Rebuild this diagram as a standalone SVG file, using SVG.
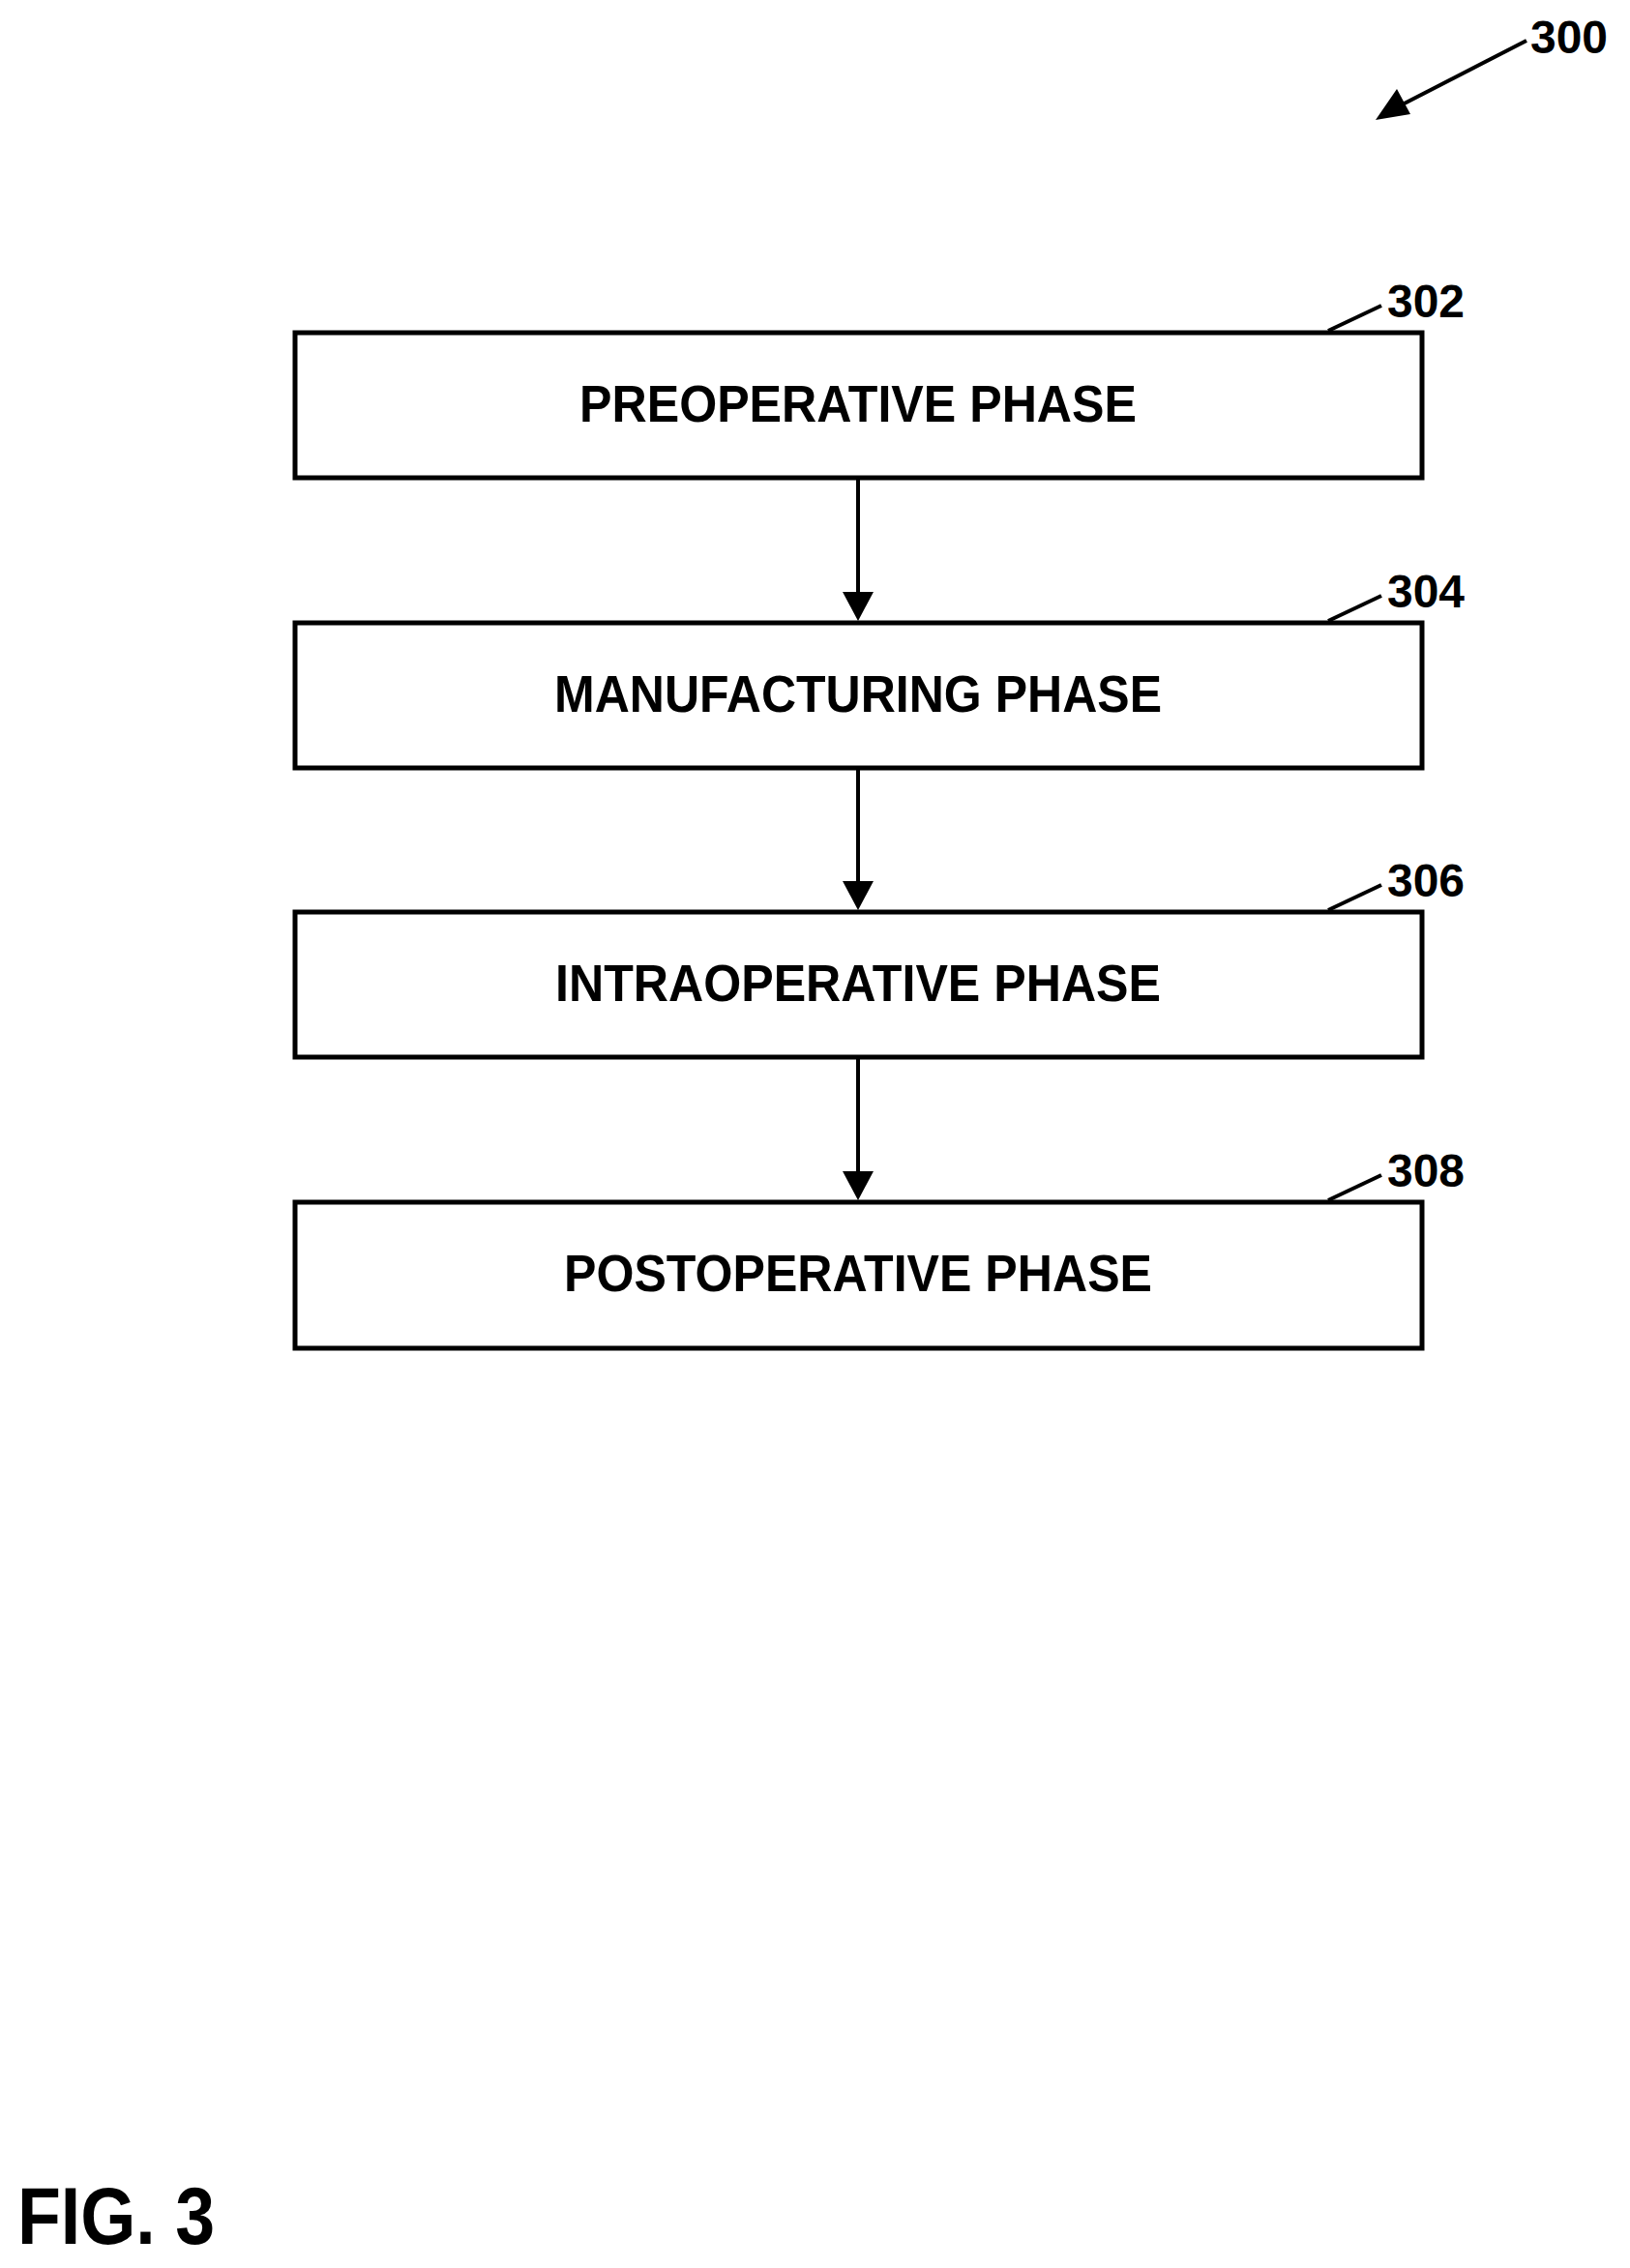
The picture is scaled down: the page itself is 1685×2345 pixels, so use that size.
<svg xmlns="http://www.w3.org/2000/svg" width="1685" height="2345" viewBox="0 0 1685 2345">
<style>
.box{fill:#fff;stroke:#000;stroke-width:5}
.lbl{font-family:"Liberation Sans",Arial,sans-serif;font-weight:bold;font-size:54px;text-anchor:middle}
.ref{font-family:"Liberation Sans",Arial,sans-serif;font-weight:bold;font-size:48px}
.ln{stroke:#000;stroke-width:4;fill:none}
.hd{fill:#000}
</style>
<rect width="1685" height="2345" fill="#fff"/>
<g id="ref300">
<text class="ref" x="1582" y="55" textLength="80" lengthAdjust="spacingAndGlyphs">300</text>
<line class="ln" x1="1578" y1="42" x2="1440" y2="113"/>
<path d="M1422,124 L1444,92 L1458,118 z" fill="#000"/>
</g>
<g id="n302">
<rect class="box" x="305" y="344" width="1165" height="150"/>
<text class="lbl" x="887" y="436" textLength="576" lengthAdjust="spacingAndGlyphs">PREOPERATIVE PHASE</text>
<text class="ref" x="1434" y="328" textLength="80" lengthAdjust="spacingAndGlyphs">302</text>
<line class="ln" x1="1373" y1="342" x2="1428" y2="316"/>
</g>
<g id="n304">
<rect class="box" x="305" y="644" width="1165" height="150"/>
<text class="lbl" x="887" y="736" textLength="628" lengthAdjust="spacingAndGlyphs">MANUFACTURING PHASE</text>
<text class="ref" x="1434" y="628" textLength="80" lengthAdjust="spacingAndGlyphs">304</text>
<line class="ln" x1="1373" y1="642" x2="1428" y2="616"/>
</g>
<g id="n306">
<rect class="box" x="305" y="943" width="1165" height="150"/>
<text class="lbl" x="887" y="1035" textLength="626" lengthAdjust="spacingAndGlyphs">INTRAOPERATIVE PHASE</text>
<text class="ref" x="1434" y="927" textLength="80" lengthAdjust="spacingAndGlyphs">306</text>
<line class="ln" x1="1373" y1="941" x2="1428" y2="915"/>
</g>
<g id="n308">
<rect class="box" x="305" y="1243" width="1165" height="151"/>
<text class="lbl" x="887" y="1335" textLength="608" lengthAdjust="spacingAndGlyphs">POSTOPERATIVE PHASE</text>
<text class="ref" x="1434" y="1227" textLength="80" lengthAdjust="spacingAndGlyphs">308</text>
<line class="ln" x1="1373" y1="1241" x2="1428" y2="1215"/>
</g>
<g id="connectors">
<line class="ln" x1="887" y1="496" x2="887" y2="615"/>
<path class="hd" d="M871,612 L903,612 L887,642 z"/>
<line class="ln" x1="887" y1="796" x2="887" y2="914"/>
<path class="hd" d="M871,911 L903,911 L887,941 z"/>
<line class="ln" x1="887" y1="1095" x2="887" y2="1214"/>
<path class="hd" d="M871,1211 L903,1211 L887,1241 z"/>
</g>
<text x="18" y="2320" font-family="Liberation Sans,Arial,sans-serif" font-weight="bold" font-size="84" textLength="204" lengthAdjust="spacingAndGlyphs">FIG. 3</text>
</svg>
